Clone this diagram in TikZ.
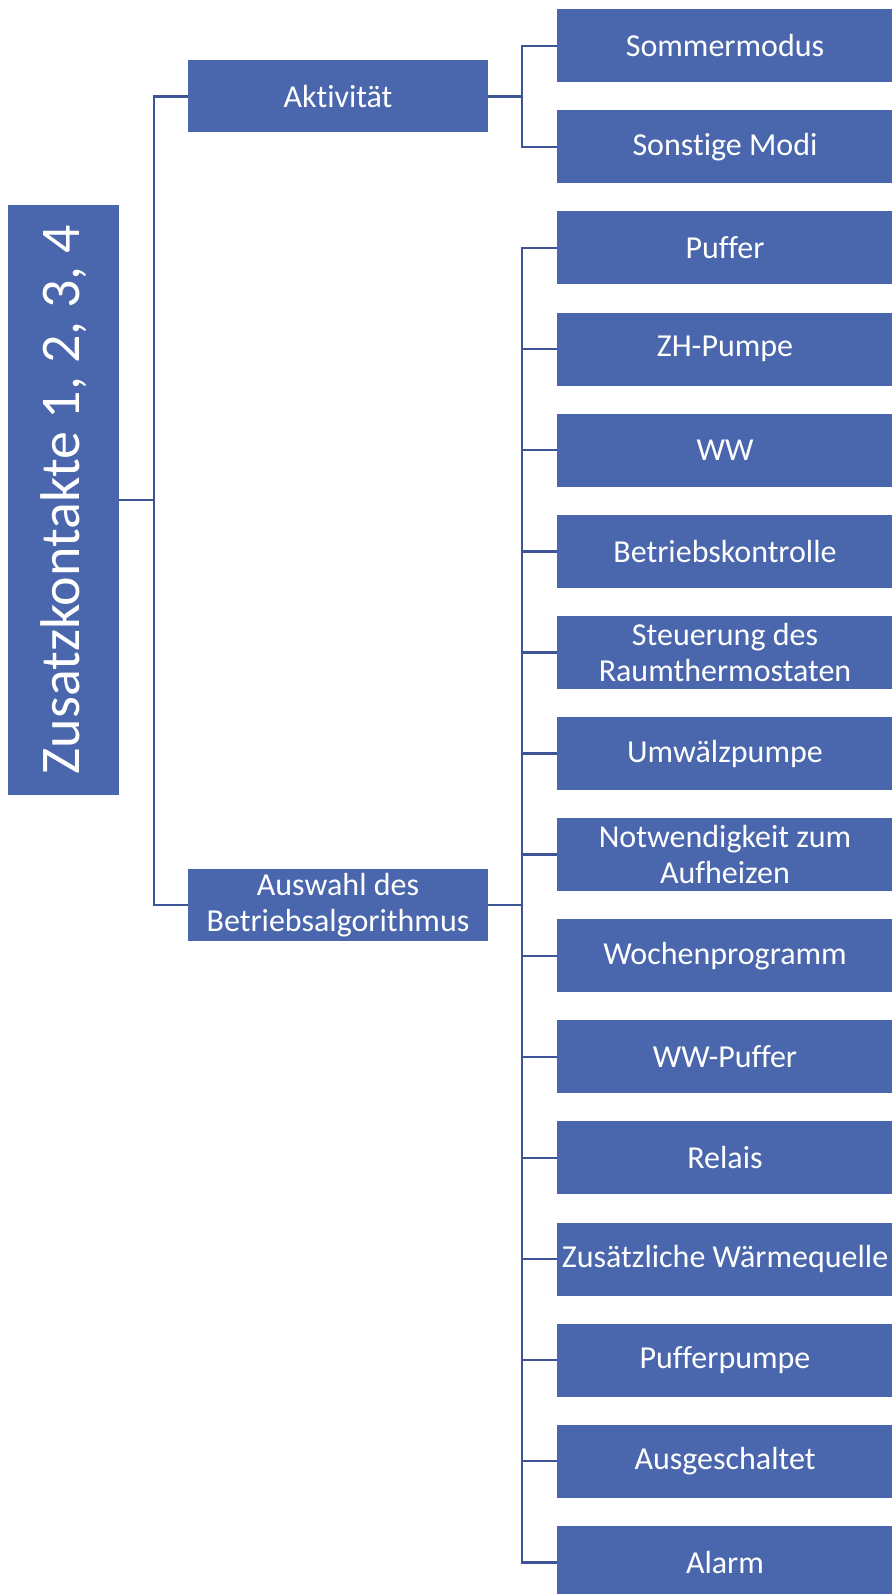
\documentclass[tikz,border=0pt]{standalone}
\usepackage{fontspec}
\setmainfont{Carlito}[Ligatures=NoCommon]
\definecolor{boxblue}{HTML}{4A67AD}
\definecolor{lineblue}{HTML}{3D5597}
\tikzset{
  box/.style={fill=boxblue, text=white, inner sep=0pt, align=center,
    font=\fontsize{32}{36}\selectfont},
  leaf/.style={box, minimum width=336pt, minimum height=73pt},
  mid/.style={box, minimum width=300pt, minimum height=72pt},
  link/.style={draw=lineblue, line width=2.4pt}
}

\begin{document}
\begin{tikzpicture}[x=1pt,y=-1pt]
  \useasboundingbox (0,0) rectangle (891,1594);

  % Parameters
  \def\first{45.8}
  \def\pitch{101.1}
  \def\leafx{725}

  % Root
  \node[box, minimum width=111pt, minimum height=590pt] (root) at (63.5,500)
    {\rotatebox{90}{\fontsize{56}{60}\selectfont Zusatzkontakte 1, 2, 3, 4}};

  % Level 1
  \node[mid] (akt) at (338,96.5) {Aktivität};
  \node[mid] (algo) at (338,905) {Auswahl des\\Betriebsalgorithmus};

  \draw[link] (root.east) -- ++(35,0) |- (akt.west);
  \draw[link] (root.east) -- ++(35,0) |- (algo.west);

  % Level 2: Aktivitaet
  \node[leaf] (somm) at (\leafx,\first) {Sommermodus};
  \node[leaf] (sonst) at (\leafx,{\first+\pitch}) {Sonstige Modi};
  \draw[link] (akt.east) -- ++(34,0) |- (somm.west);
  \draw[link] (akt.east) -- ++(34,0) |- (sonst.west);

  % Level 2: Betriebsalgorithmus
  \foreach \name/\txt [count=\i from 2] in {
      puffer/Puffer, zh/ZH-Pumpe, ww/WW, kontr/Betriebskontrolle,
      thermo/Steuerung des\\Raumthermostaten, umw/Umwälzpumpe,
      heiz/Notwendigkeit zum\\Aufheizen, woche/Wochenprogramm,
      wwpuf/WW-Puffer, relais/Relais, quelle/Zusätzliche Wärmequelle,
      pumpe/Pufferpumpe, aus/Ausgeschaltet, alarm/Alarm} {
    \node[leaf] (\name) at (\leafx,{\first+\i*\pitch}) {\txt};
    \draw[link] (algo.east) -- ++(34,0) |- (\name.west);
  }
\end{tikzpicture}
\end{document}
